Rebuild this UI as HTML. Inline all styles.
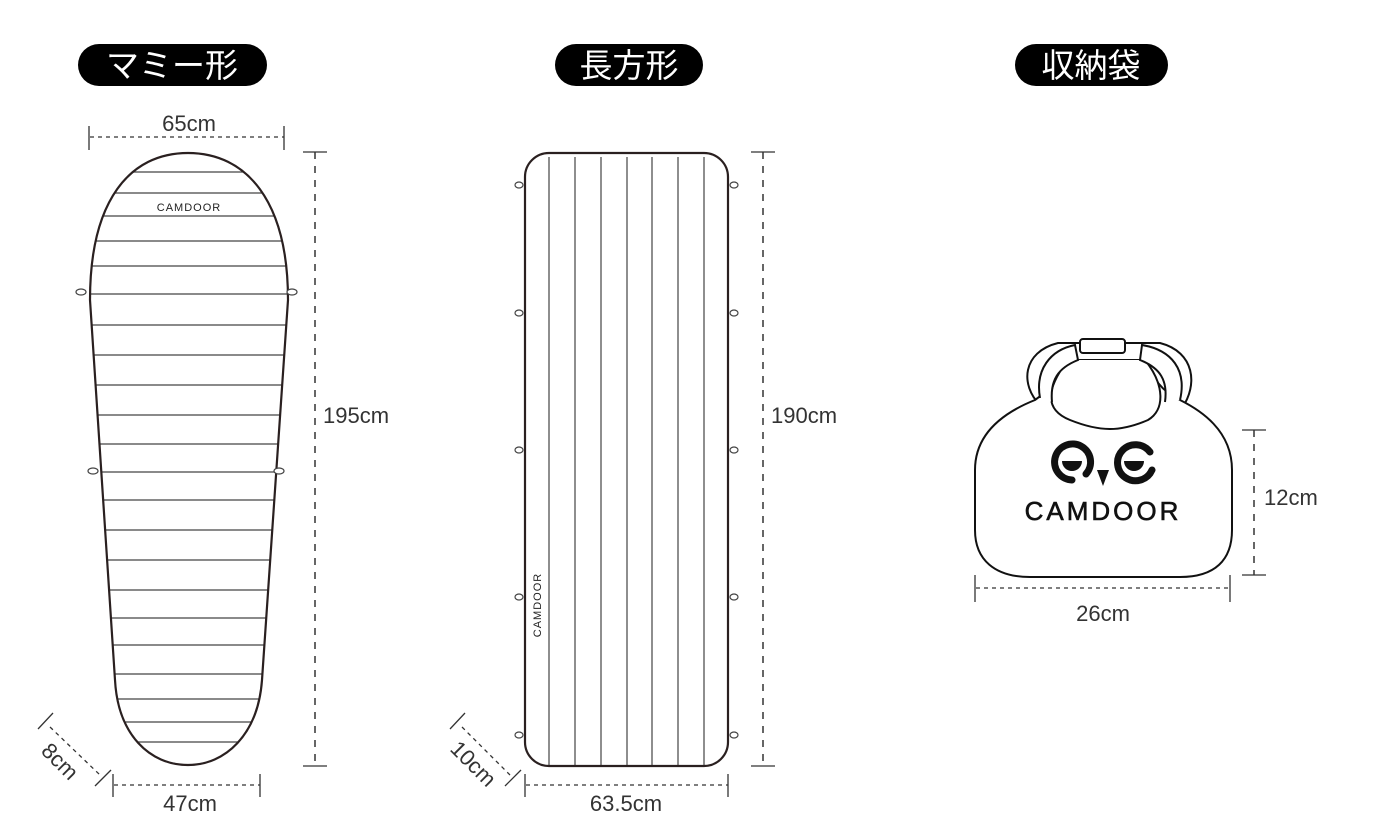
<!DOCTYPE html>
<html><head><meta charset="utf-8"><style>
html,body{margin:0;padding:0;background:#fff;}
svg{display:block;}
text{font-family:"Liberation Sans","Noto Sans CJK JP",sans-serif;}
</style></head><body>
<svg width="1400" height="830" viewBox="0 0 1400 830" xmlns="http://www.w3.org/2000/svg">
<defs>
<clipPath id="mc"><path d="M90 300 C90 200 130 153 188 153 C246 153 288 200 288 300 L262 680 C258 735 225 765 188 765 C150 765 118 735 115 680 Z"/></clipPath>
</defs>
<!-- pills -->
<rect x="78" y="44" width="189" height="42" rx="21" fill="#000"/>
<text x="172" y="77" font-size="33" fill="#fff" text-anchor="middle" style="font-family:'Noto Sans CJK JP',sans-serif">マミー形</text>
<rect x="555" y="44" width="148" height="42" rx="21" fill="#000"/>
<text x="629" y="77" font-size="33" fill="#fff" text-anchor="middle" style="font-family:'Noto Sans CJK JP',sans-serif">長方形</text>
<rect x="1015" y="44" width="153" height="42" rx="21" fill="#000"/>
<text x="1091" y="77" font-size="33" fill="#fff" text-anchor="middle" style="font-family:'Noto Sans CJK JP',sans-serif">収納袋</text>

<g stroke="#333" fill="none" stroke-width="1.3">
<line x1="89" y1="126" x2="89" y2="150"/><line x1="284" y1="126" x2="284" y2="150"/>
<line x1="90" y1="137" x2="284" y2="137" stroke-dasharray="4 4"/>
<line x1="303" y1="152" x2="327" y2="152"/><line x1="303" y1="766" x2="327" y2="766"/>
<line x1="315" y1="152" x2="315" y2="766" stroke-dasharray="7 7" stroke-width="1.5"/>
<line x1="113" y1="774" x2="113" y2="797"/><line x1="260" y1="774" x2="260" y2="797"/>
<line x1="114" y1="785" x2="260" y2="785" stroke-dasharray="4 4"/>
<line x1="38" y1="729" x2="53" y2="713"/><line x1="95" y1="786" x2="111" y2="770"/>
<line x1="50" y1="727" x2="100" y2="775" stroke-dasharray="4 4"/>
<line x1="751" y1="152" x2="775" y2="152"/><line x1="751" y1="766" x2="775" y2="766"/>
<line x1="763" y1="152" x2="763" y2="766" stroke-dasharray="7 7" stroke-width="1.5"/>
<line x1="525" y1="774" x2="525" y2="797"/><line x1="728" y1="774" x2="728" y2="797"/>
<line x1="526" y1="785" x2="728" y2="785" stroke-dasharray="4 4"/>
<line x1="450" y1="729" x2="465" y2="713"/><line x1="505" y1="786" x2="521" y2="770"/>
<line x1="462" y1="727" x2="510" y2="775" stroke-dasharray="4 4"/>
<line x1="1242" y1="430" x2="1266" y2="430"/><line x1="1242" y1="575" x2="1266" y2="575"/>
<line x1="1254" y1="430" x2="1254" y2="575" stroke-dasharray="7 7" stroke-width="1.5"/>
<line x1="975" y1="575" x2="975" y2="602"/><line x1="1230" y1="575" x2="1230" y2="602"/>
<line x1="976" y1="588" x2="1230" y2="588" stroke-dasharray="4 4"/>
</g>

<!-- mummy bag -->
<g clip-path="url(#mc)" stroke="#444" stroke-width="1.2">
<line x1="80" x2="300" y1="172" y2="172"/><line x1="80" x2="300" y1="193" y2="193"/>
<line x1="80" x2="300" y1="216" y2="216"/><line x1="80" x2="300" y1="241" y2="241"/>
<line x1="80" x2="300" y1="266" y2="266"/><line x1="80" x2="300" y1="294" y2="294"/>
<line x1="80" x2="300" y1="325" y2="325"/><line x1="80" x2="300" y1="355" y2="355"/>
<line x1="80" x2="300" y1="385" y2="385"/><line x1="80" x2="300" y1="415" y2="415"/>
<line x1="80" x2="300" y1="444" y2="444"/><line x1="80" x2="300" y1="472" y2="472"/>
<line x1="80" x2="300" y1="500" y2="500"/><line x1="80" x2="300" y1="530" y2="530"/>
<line x1="80" x2="300" y1="560" y2="560"/><line x1="80" x2="300" y1="590" y2="590"/>
<line x1="80" x2="300" y1="618" y2="618"/><line x1="80" x2="300" y1="645" y2="645"/>
<line x1="80" x2="300" y1="674" y2="674"/><line x1="80" x2="300" y1="699" y2="699"/>
<line x1="80" x2="300" y1="722" y2="722"/><line x1="80" x2="300" y1="742" y2="742"/>
</g>
<path d="M90 300 C90 200 130 153 188 153 C246 153 288 200 288 300 L262 680 C258 735 225 765 188 765 C150 765 118 735 115 680 Z" fill="none" stroke="#2a2020" stroke-width="2.2"/>
<text x="189" y="211" font-size="11" text-anchor="middle" fill="#222" letter-spacing="1">CAMDOOR</text>
<g fill="#fff" stroke="#444" stroke-width="1.2">
<ellipse cx="81" cy="292" rx="5" ry="3"/><ellipse cx="292" cy="292" rx="5" ry="3"/>
<ellipse cx="93" cy="471" rx="5" ry="3"/><ellipse cx="279" cy="471" rx="5" ry="3"/>
</g>

<!-- rectangle pad -->
<g stroke="#444" stroke-width="1.2">
<line x1="549" x2="549" y1="157" y2="766"/><line x1="575" x2="575" y1="157" y2="766"/>
<line x1="601" x2="601" y1="157" y2="766"/><line x1="627" x2="627" y1="157" y2="766"/>
<line x1="652" x2="652" y1="157" y2="766"/><line x1="678" x2="678" y1="157" y2="766"/>
<line x1="704" x2="704" y1="157" y2="766"/>
</g>
<rect x="525" y="153" width="203" height="613" rx="24" fill="none" stroke="#2a2020" stroke-width="2.2"/>
<g fill="#fff" stroke="#444" stroke-width="1.2">
<ellipse cx="519" cy="185" rx="4" ry="3"/><ellipse cx="734" cy="185" rx="4" ry="3"/>
<ellipse cx="519" cy="313" rx="4" ry="3"/><ellipse cx="734" cy="313" rx="4" ry="3"/>
<ellipse cx="519" cy="450" rx="4" ry="3"/><ellipse cx="734" cy="450" rx="4" ry="3"/>
<ellipse cx="519" cy="597" rx="4" ry="3"/><ellipse cx="734" cy="597" rx="4" ry="3"/>
<ellipse cx="519" cy="735" rx="4" ry="3"/><ellipse cx="734" cy="735" rx="4" ry="3"/>
</g>
<text transform="translate(541 605) rotate(-90)" font-size="11" text-anchor="middle" fill="#222" letter-spacing="1">CAMDOOR</text>

<!-- storage bag -->
<g fill="#fff" stroke="#111" stroke-width="2">
<path d="M1040 405 C1020 385 1022 352 1058 343 L1160 343 C1195 352 1198 385 1182 408 Z"/>
<path d="M1035 400 C1010 410 975 430 975 470 L975 530 C975 560 995 577 1030 577 L1180 577 C1215 577 1232 560 1232 530 L1232 470 C1232 430 1200 410 1180 400 C1160 390 1155 380 1145 360 L1060 360 C1050 380 1050 390 1035 400 Z"/>
<path d="M1068 360 C1045 390 1045 410 1070 420 C1100 432 1120 432 1148 420 C1165 410 1165 385 1145 360"/>
<path d="M1040 398 C1035 370 1050 350 1075 345 L1078 360 C1058 368 1050 380 1052 402"/>
<path d="M1180 400 C1187 370 1172 350 1142 345 L1140 360 C1160 368 1168 380 1165 402"/>
<rect x="1080" y="339" width="45" height="14" rx="3"/>
</g>
<!-- logo -->
<g fill="none" stroke="#111" stroke-width="7" stroke-linecap="round">
<path d="M1086 474 A18 18 0 1 0 1072 480"/>
<path d="M1150 452 A18 18 0 1 0 1152 470"/>
</g>
<path d="M1062 461 L1082 461 A10 10 0 0 1 1062 461 Z" fill="#111"/>
<path d="M1124 461 L1144 461 A10 10 0 0 1 1124 461 Z" fill="#111"/>
<path d="M1097 470 L1109 470 L1103 486 Z" fill="#111"/>
<text x="1103" y="520" font-size="26" text-anchor="middle" fill="#111" letter-spacing="3" stroke="#111" stroke-width="0.6">CAMDOOR</text>

<!-- labels -->
<g font-size="22" fill="#333" style="font-family:'Noto Sans CJK JP',sans-serif">
<text x="189" y="131" text-anchor="middle">65cm</text>
<text x="323" y="423">195cm</text>
<text x="190" y="811" text-anchor="middle">47cm</text>
<text transform="translate(40 752) rotate(45)">8cm</text>
<text x="771" y="423">190cm</text>
<text x="626" y="811" text-anchor="middle">63.5cm</text>
<text transform="translate(449 750) rotate(45)">10cm</text>
<text x="1264" y="505">12cm</text>
<text x="1103" y="621" text-anchor="middle">26cm</text>
</g>
</svg>
</body></html>
